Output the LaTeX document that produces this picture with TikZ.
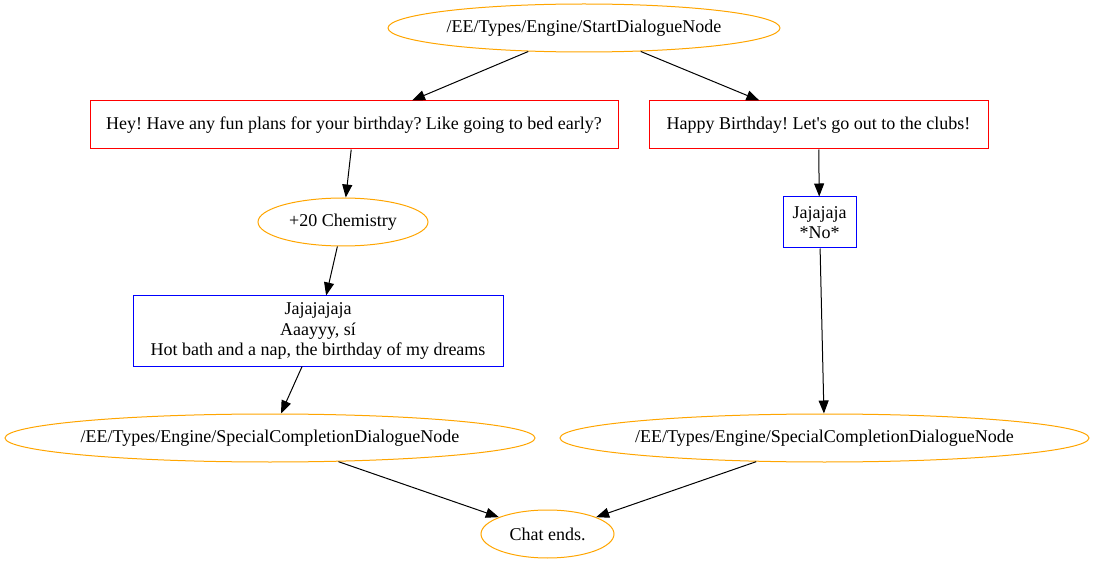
\documentclass[tikz,border=0pt]{standalone}
\usepackage{fontspec}
\setmainfont{Liberation Serif}[Ligatures=TeXOff]
\usetikzlibrary{shapes.geometric,arrows.meta}
\definecolor{gvorange}{RGB}{255,165,0}
\tikzset{
  gvfont/.style={font=\frenchspacing\fontsize{18}{20.5}\selectfont},
  ell/.style={ellipse,draw=gvorange,line width=1pt,inner xsep=-60pt,inner ysep=-6pt,gvfont},
  redbox/.style={rectangle,draw=red,line width=1pt,inner sep=0pt,gvfont},
  bluebox/.style={rectangle,draw=blue,line width=1pt,inner sep=0pt,align=center,gvfont},
  edge/.style={draw=black,line width=1pt,-{Triangle[length=13pt,width=10pt]}}
}
\begin{document}
\begin{tikzpicture}[x=1pt,y=-1pt]
\useasboundingbox (0,0) rectangle (1096,564);
\node[ell,minimum width=392pt,minimum height=48pt] (start) at (584,28) {/EE/Types/Engine/StartDialogueNode};
\node[redbox,minimum width=528pt,minimum height=48pt] (b1) at (354,125) {Hey! Have any fun plans for your birthday? Like going to bed early?};
\node[redbox,minimum width=339pt,minimum height=48pt] (b2) at (818.5,125) {Happy Birthday! Let's go out to the clubs!};
\node[ell,minimum width=170pt,minimum height=48pt,inner xsep=-10pt] (chem) at (343,222) {+20 Chemistry};
\node[bluebox,minimum width=73pt,minimum height=51pt] (j1) at (819.5,222.5) {Jajajaja\\*No*};
\node[bluebox,minimum width=370pt,minimum height=70pt] (j2) at (318,331) {Jajajajaja\\Aaayyy, sí\\Hot bath and a nap, the birthday of my dreams};
\node[ell,minimum width=530pt,minimum height=48pt] (sl) at (270,438) {/EE/Types/Engine/SpecialCompletionDialogueNode};
\node[ell,minimum width=529pt,minimum height=48pt] (sr) at (824.5,438) {/EE/Types/Engine/SpecialCompletionDialogueNode};
\node[ell,minimum width=133pt,minimum height=48pt,inner xsep=-10pt] (chat) at (547.5,534) {Chat ends.};
\draw[edge] (start) -- (b1);
\draw[edge] (start) -- (b2);
\draw[edge] (b1) -- (chem);
\draw[edge] (b2) -- (j1);
\draw[edge] (chem) -- (j2);
\draw[edge] (j2) -- (sl);
\draw[edge] (j1) -- (sr);
\draw[edge] (sl) -- (chat);
\draw[edge] (sr) -- (chat);
\end{tikzpicture}
\end{document}
